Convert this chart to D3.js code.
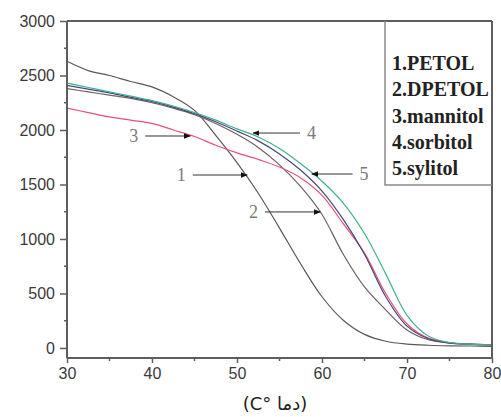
<!DOCTYPE html>
<html>
<head>
<meta charset="utf-8">
<script src="https://cdn.jsdelivr.net/npm/d3@7"></script>
<style>
  html, body { margin: 0; padding: 0; background: #fff; }
  svg { display: block; }
</style>
</head>
<body>
<svg id="chart" width="501" height="417"></svg>
<script>
// Temperature grid (°C) shared by all curves
const temps = [30, 32.5, 35, 37.5, 40, 42.5, 45, 47.5, 50, 52.5, 55, 57.5, 60, 62.5, 65, 67.5, 70, 72.5, 75, 77.5, 80];

// Series values along the temperature grid
const petol    = [2630, 2545, 2500, 2445, 2395, 2305, 2180, 1950, 1700, 1420, 1100, 770, 470, 255, 125, 62, 36, 25, 20, 18, 15];
const dpetol   = [2380, 2350, 2320, 2290, 2250, 2200, 2140, 2060, 1960, 1840, 1680, 1480, 1225, 860, 560, 350, 165, 75, 45, 35, 30];
const mannitol = [2200, 2160, 2120, 2090, 2060, 2000, 1940, 1860, 1790, 1730, 1660, 1560, 1400, 1140, 870, 500, 220, 90, 50, 35, 28];
const sorbitol = [2410, 2375, 2340, 2300, 2260, 2210, 2150, 2075, 1990, 1900, 1780, 1630, 1440, 1180, 860, 470, 200, 85, 45, 35, 30];
const sylitol  = [2430, 2390, 2350, 2310, 2270, 2220, 2160, 2090, 2010, 1935, 1830, 1690, 1530, 1330, 1050, 680, 300, 110, 50, 35, 28];

const seriesNames = ["1.PETOL", "2.DPETOL", "3.mannitol", "4.sorbitol", "5.sylitol"];
const seriesValues = [petol, dpetol, mannitol, sorbitol, sylitol];
const seriesColors = ["#595959", "#6e6066", "#e8507c", "#474778", "#3fb28e"];

// Axis ticks
const xTicks = [30, 40, 50, 60, 70, 80];
const xMinorTicks = [35, 45, 55, 65, 75];
const yTicks = [0, 500, 1000, 1500, 2000, 2500, 3000];
const yMinorTicks = [250, 750, 1250, 1750, 2250, 2750];

// Numbered call-outs: label, tail temperature, head temperature, value level
const calloutLabels = ["3", "1", "4", "5", "2"];
const calloutTail   = [39.2, 44.8, 57.4, 63.6, 53.3];
const calloutHead   = [44.5, 51.2, 51.9, 58.8, 59.8];
const calloutLevel  = [1945, 1587, 1972, 1596, 1248];

const xTitle = "(C° دما)";

const svg = d3.select("#chart");
const plotL = 67, plotR = 492, plotT = 21, plotB = 358;

const x = d3.scaleLinear().domain([30, 80]).range([plotL, plotR]);
const y = d3.scaleLinear().domain([-92, 3000]).range([plotB, plotT]);

const axisColor = "#5e5e5e";

// Curves
const line = d3.line()
  .x((d, i) => x(temps[i]))
  .y(d => y(d))
  .curve(d3.curveCatmullRom.alpha(0.5));

svg.append("g").selectAll("path")
  .data(seriesValues)
  .join("path")
  .attr("d", d => line(d))
  .attr("fill", "none")
  .attr("stroke", (d, i) => seriesColors[i])
  .attr("stroke-width", 1.2);

// Frame: top and right edges
svg.append("line").attr("x1", plotL).attr("x2", plotR).attr("y1", plotT).attr("y2", plotT)
  .attr("stroke", axisColor).attr("stroke-width", 2);
svg.append("line").attr("x1", plotR).attr("x2", plotR).attr("y1", plotT).attr("y2", plotB)
  .attr("stroke", axisColor).attr("stroke-width", 2);

// Bottom axis
const xAxis = svg.append("g").attr("transform", `translate(0,${plotB})`)
  .call(d3.axisBottom(x).tickValues(xTicks).tickSize(5).tickPadding(5).tickFormat(d3.format("d")));
xAxis.append("g").selectAll("line").data(xMinorTicks).join("line")
  .attr("x1", d => x(d)).attr("x2", d => x(d)).attr("y1", 0).attr("y2", 3);

// Left axis
const yAxis = svg.append("g").attr("transform", `translate(${plotL},0)`)
  .call(d3.axisLeft(y).tickValues(yTicks).tickSize(7).tickPadding(5).tickFormat(d3.format("d")));
yAxis.append("g").selectAll("line").data(yMinorTicks).join("line")
  .attr("x1", 0).attr("x2", -3).attr("y1", d => y(d)).attr("y2", d => y(d));

[xAxis, yAxis].forEach(g => {
  g.select(".domain").attr("stroke", axisColor).attr("stroke-width", 2);
  g.selectAll("line").attr("stroke", axisColor).attr("stroke-width", 1.5);
  g.selectAll("text").attr("fill", "#3a3a3a")
    .style("font-family", "'Liberation Sans', Arial, sans-serif")
    .style("font-size", "16px");
});
// Domain lines span the plot exactly
xAxis.select(".domain").attr("d", `M${plotL},0H${plotR}`);
yAxis.select(".domain").attr("d", `M0,${plotT}V${plotB}`);

// Legend box
const legendLeft = 385, legendBottom = 185;
svg.append("path")
  .attr("d", `M${legendLeft},${plotT}V${legendBottom}H${plotR}`)
  .attr("fill", "none").attr("stroke", "#8a8a8a").attr("stroke-width", 1.5);

svg.append("g").selectAll("text")
  .data(seriesNames)
  .join("text")
  .attr("x", legendLeft + 7)
  .attr("y", (d, i) => 70 + i * 26.3)
  .text(d => d)
  .attr("fill", "#222")
  .style("font-family", "'Liberation Serif', 'Times New Roman', serif")
  .style("font-weight", "bold")
  .style("font-size", "20px");

// Call-out arrows
const defs = svg.append("defs");
defs.append("marker")
  .attr("id", "head")
  .attr("viewBox", "0 0 10 10")
  .attr("refX", 9).attr("refY", 5)
  .attr("markerWidth", 7).attr("markerHeight", 7)
  .attr("markerUnits", "userSpaceOnUse")
  .attr("orient", "auto")
  .append("path").attr("d", "M0,1L10,5L0,9Z").attr("fill", "#111");

const callouts = svg.append("g");
calloutLabels.forEach((lab, i) => {
  const x0 = x(calloutTail[i]), x1 = x(calloutHead[i]), yy = y(calloutLevel[i]);
  callouts.append("line")
    .attr("x1", x0).attr("x2", x1).attr("y1", yy).attr("y2", yy)
    .attr("stroke", "#333").attr("stroke-width", 1)
    .attr("marker-end", "url(#head)");
  const dir = x1 > x0 ? -1 : 1;
  callouts.append("text")
    .attr("x", x0 + dir * 7)
    .attr("y", yy + 6)
    .attr("text-anchor", dir < 0 ? "end" : "start")
    .text(lab)
    .attr("fill", "#7a7a7a")
    .style("font-family", "'Liberation Serif', 'Times New Roman', serif")
    .style("font-size", "18px");
});

// Axis title
svg.append("text")
  .attr("x", 275).attr("y", 410)
  .attr("text-anchor", "middle")
  .text(xTitle)
  .attr("fill", "#222")
  .style("font-family", "'DejaVu Sans', 'Noto Sans', sans-serif")
  .style("font-size", "18px");
</script>
</body>
</html>
